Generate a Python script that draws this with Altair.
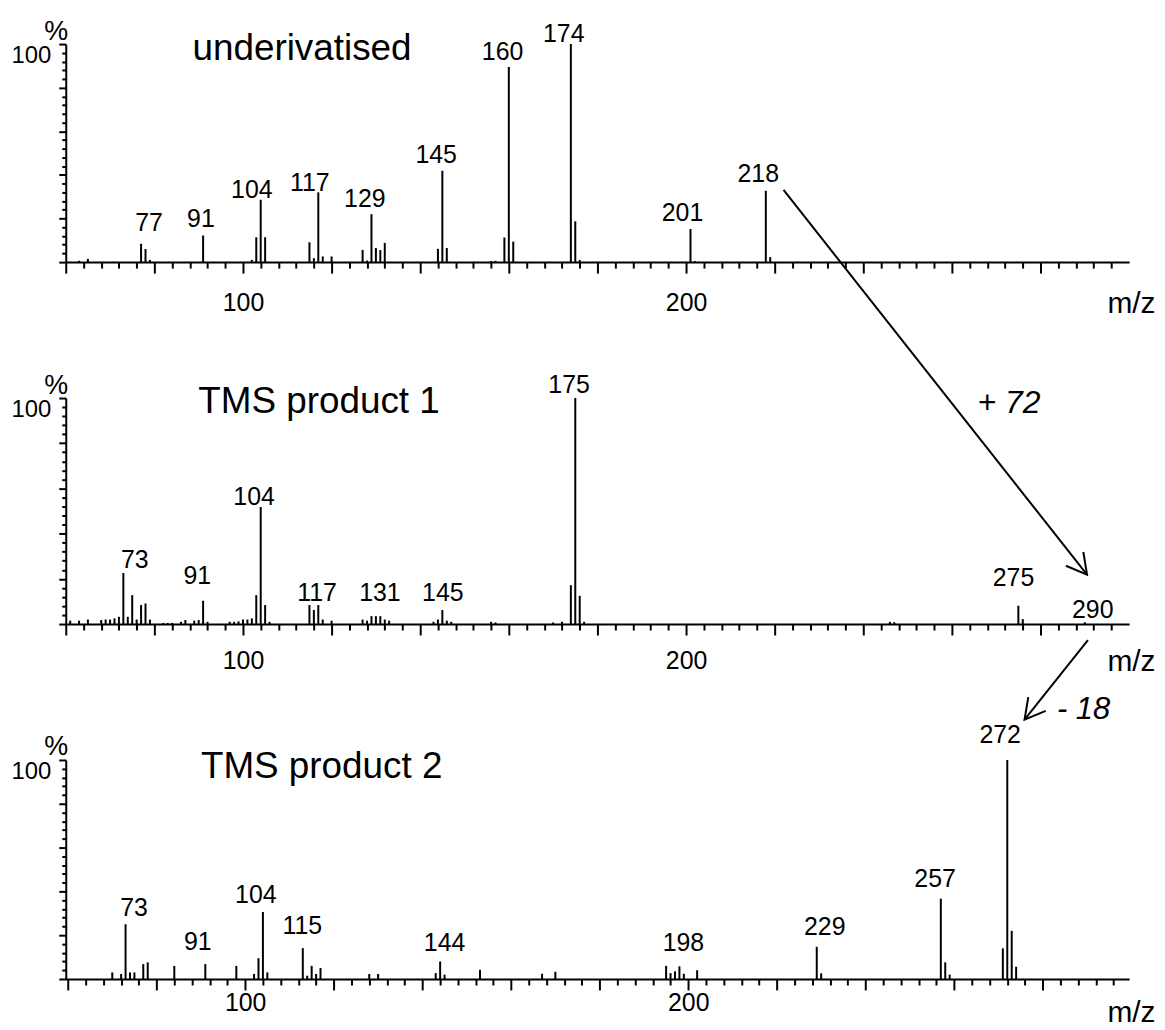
import altair as alt
import pandas as pd

FONT = "Liberation Sans"

# ---------------- Panel 1: underivatised ----------------
p1_mz = [63, 65, 77, 78, 79, 91, 102, 103, 104, 105, 115, 116, 117, 118, 120,
         127, 128, 129, 130, 131, 132, 144, 145, 146, 156, 157, 159, 160, 161,
         174, 175, 176, 201, 202, 218, 219]
p1_int = [0.6, 1.5, 8.4, 6.0, 1.0, 12.2, 1.0, 11.4, 28.6, 11.4, 9.1, 1.8, 32.0, 2.6, 2.6,
          5.6, 0.7, 22.0, 6.5, 5.5, 8.8, 6.1, 41.9, 6.5, 0.5, 0.6, 11.3, 89.5, 9.4,
          100, 18.7, 1.0, 15.2, 0.5, 32.7, 2.3]
p1_lab_txt = ["77", "91", "104", "117", "129", "145", "160", "174", "201", "218"]
p1_lab_x = [78.8, 90.5, 102.0, 115.1, 127.5, 143.6, 158.6, 172.4, 199.2, 216.3]
p1_lab_y = [14.5, 16.0, 29.6, 32.8, 25.1, 45.4, 92.5, 101.1, 18.7, 36.6]
p1_title = "underivatised"
p1_title_x, p1_title_y = 88.6, 92.5

# ---------------- Panel 2: TMS product 1 ----------------
p2_mz = [61, 63, 65, 68, 69, 70, 71, 72, 73, 74, 75, 76, 77, 78, 79, 82, 83, 84, 86, 87,
         89, 90, 91, 92, 97, 98, 99, 100, 101, 102, 103, 104, 105, 106, 115, 116, 117,
         118, 120, 127, 128, 129, 130, 131, 132, 133, 143, 144, 145, 146, 147, 156, 157,
         170, 172, 174, 175, 176, 177, 246, 247, 275, 276, 290]
p2_int = [1.5, 1.5, 2.0, 1.8, 2.0, 2.0, 2.5, 3.2, 22.6, 3.2, 12.8, 2.0, 8.4, 9.1, 2.0,
          0.5, 0.5, 0.5, 1.0, 1.8, 1.5, 1.8, 10.3, 1.0, 1.0, 1.0, 1.2, 2.0, 2.0, 2.5,
          12.8, 51.8, 8.4, 1.0, 8.4, 6.2, 8.4, 2.0, 1.5, 2.0, 1.5, 3.5, 3.5, 3.5, 2.0,
          1.5, 1.0, 2.0, 6.2, 1.5, 1.0, 1.0, 0.7, 0.7, 1.0, 17.2, 100, 12.5, 1.0, 1.0,
          0.8, 8.1, 2.2, 0.8]
p2_lab_txt = ["73", "91", "104", "117", "131", "145", "175", "275", "290"]
p2_lab_x = [75.6, 89.7, 102.5, 116.7, 130.9, 145.1, 173.6, 273.9, 291.8]
p2_lab_y = [24.7, 17.6, 52.6, 10.0, 10.0, 10.3, 102.2, 16.9, 2.6]
p2_title = "TMS product 1"
p2_title_x, p2_title_y = 89.9, 93.3

# ---------------- Panel 3: TMS product 2 ----------------
p3_mz = [70, 72, 73, 74, 75, 77, 78, 84, 91, 98, 102, 103, 104, 105, 113, 114, 115, 116,
         117, 128, 130, 143, 144, 145, 153, 167, 170, 195, 196, 197, 198, 199, 202, 229,
         230, 257, 258, 259, 271, 272, 273, 274]
p3_int = [3.0, 2.3, 25.0, 3.0, 3.0, 6.8, 7.6, 6.0, 6.8, 6.0, 2.3, 9.5, 30.6, 3.0, 14.1,
          1.5, 6.0, 2.3, 5.0, 2.3, 2.3, 2.7, 8.0, 2.0, 4.2, 2.4, 3.3, 6.0, 2.7, 3.5, 5.8,
          2.4, 4.0, 14.7, 2.6, 36.7, 7.6, 2.0, 14.0, 100, 22.0, 5.6]
p3_lab_txt = ["73", "91", "104", "115", "144", "198", "229", "257", "272"]
p3_lab_x = [74.9, 89.3, 102.4, 112.9, 145.0, 198.9, 230.8, 255.7, 270.4]
p3_lab_y = [28.8, 13.2, 34.9, 20.5, 12.9, 12.9, 20.2, 42.0, 107.6]
p3_title = "TMS product 2"
p3_title_x, p3_title_y = 90.0, 91.7

# ---------------- Annotations (arrows) ----------------
arrow1 = {"x": [222.0], "y": [33.1], "x2": [290.5], "y2": [-143.3]}
arrow1_text = {"t": ["+ 72"], "x": [265.8], "y": [-69.3]}
arrow2 = {"x": [290.7], "y": [-7.1], "x2": [276.4], "y2": [-42.3]}
arrow2_text = {"t": ["- 18"], "x": [283.7], "y": [-41.8]}

x_ticks = list(range(60, 300, 4))
y_ticks = list(range(0, 101, 4))

ARROW_PATH = "M-0.485,0.875L0,0L0.485,0.875"


def axes(mz_title_y, x_label_pad):
    xaxis = alt.Axis(
        values=x_ticks,
        tickSize={"condition": {"test": "datum.value % 20 === 0", "value": 11}, "value": 6},
        tickWidth=2, tickColor="black",
        domainColor="black", domainWidth=2,
        labelExpr="datum.value == 100 || datum.value == 200 ? datum.label : ''",
        labelFontSize=25, labelColor="black", labelPadding=x_label_pad,
        labelOverlap=False, labelFlush=False,
        title="m/z", titleFontSize=30, titleFontWeight="normal", titleColor="black",
        titleAnchor="end", titleAlign="right", titleBaseline="alphabetic",
        titleX=1094, titleY=mz_title_y, grid=False,
    )
    yaxis = alt.Axis(
        values=y_ticks,
        tickSize={"condition": {"test": "datum.value % 20 === 0", "value": 7}, "value": 4},
        tickWidth=2, tickColor="black",
        domainColor="black", domainWidth=2,
        labelExpr="datum.value == 100 ? datum.label : ''",
        labelFontSize=24, labelColor="black", labelPadding=8,
        labelBaseline="top", labelOverlap=False, labelFlush=False,
        title="%", titleAngle=0, titleFontSize=27, titleFontWeight="normal",
        titleColor="black", titleAlign="center", titleBaseline="alphabetic",
        titleX=-10, titleY=-5, grid=False,
    )
    return xaxis, yaxis


def make_panel(mz, inten, lab_txt, lab_x, lab_y, title, tx, ty, height,
               xdomain, mz_title_y, x_label_pad, extras=()):
    xs = alt.Scale(domain=xdomain, nice=False, zero=False)
    ys = alt.Scale(domain=[0, 100], nice=False, zero=False)
    xaxis, yaxis = axes(mz_title_y, x_label_pad)
    peaks = pd.DataFrame({"mz": mz, "intensity": inten})
    rules = alt.Chart(peaks).mark_rule(color="black", strokeWidth=2).encode(
        x=alt.X("mz:Q", scale=xs, axis=xaxis),
        y=alt.Y("intensity:Q", scale=ys, axis=yaxis),
        y2=alt.datum(0),
    )
    labels = alt.Chart(pd.DataFrame({"t": lab_txt, "x": lab_x, "y": lab_y})).mark_text(
        fontSize=25, align="center", baseline="alphabetic", color="black"
    ).encode(
        x=alt.X("x:Q", scale=xs, axis=xaxis),
        y=alt.Y("y:Q", scale=ys, axis=yaxis),
        text="t:N",
    )
    ttl = alt.Chart(pd.DataFrame({"t": [title], "x": [tx], "y": [ty]})).mark_text(
        fontSize=37, align="left", baseline="alphabetic", color="black"
    ).encode(
        x=alt.X("x:Q", scale=xs, axis=xaxis),
        y=alt.Y("y:Q", scale=ys, axis=yaxis),
        text="t:N",
    )
    layers = [rules, labels, ttl]
    for ex in extras:
        layers.extend(ex(xs, ys, xaxis, yaxis))
    return alt.layer(*layers).properties(width=1068, height=height)


def arrow_layers(arrow, angle, text, fsize):
    def f(xs, ys, xaxis, yaxis):
        line = alt.Chart(pd.DataFrame(arrow)).mark_rule(color="black", strokeWidth=2).encode(
            x=alt.X("x:Q", scale=xs, axis=xaxis),
            y=alt.Y("y:Q", scale=ys, axis=yaxis),
            x2="x2:Q", y2="y2:Q",
        )
        head = alt.Chart(pd.DataFrame(arrow)).mark_point(
            shape=ARROW_PATH, filled=False, strokeWidth=2, color="black",
            size=2116, angle=angle, opacity=1,
        ).encode(
            x=alt.X("x2:Q", scale=xs, axis=xaxis),
            y=alt.Y("y2:Q", scale=ys, axis=yaxis),
        )
        txt = alt.Chart(pd.DataFrame(text)).mark_text(
            fontSize=fsize, fontStyle="italic", align="left", baseline="alphabetic",
            color="black"
        ).encode(
            x=alt.X("x:Q", scale=xs, axis=xaxis),
            y=alt.Y("y:Q", scale=ys, axis=yaxis),
            text="t:N",
        )
        return [line, head, txt]
    return f


p1 = make_panel(p1_mz, p1_int, p1_lab_txt, p1_lab_x, p1_lab_y, p1_title,
                p1_title_x, p1_title_y, 219, [60, 300], 51, 18,
                extras=[arrow_layers(arrow1, 141.7, arrow1_text, 32)])
p2 = make_panel(p2_mz, p2_int, p2_lab_txt, p2_lab_x, p2_lab_y, p2_title,
                p2_title_x, p2_title_y, 227, [60, 300], 47, 14,
                extras=[arrow_layers(arrow2, 218.4, arrow2_text, 31)])
p3 = make_panel(p3_mz, p3_int, p3_lab_txt, p3_lab_x, p3_lab_y, p3_title,
                p3_title_x, p3_title_y, 220, [59.5, 299.5], 43, 1)

chart = alt.vconcat(p1, p2, p3, spacing=136.5, bounds="flush").properties(
    padding={"left": 2, "top": 7, "right": 2, "bottom": 2},
    background="white",
).configure(font=FONT).configure_view(stroke=None)

chart.save("out.html", embed_options={"renderer": "svg", "actions": False})
